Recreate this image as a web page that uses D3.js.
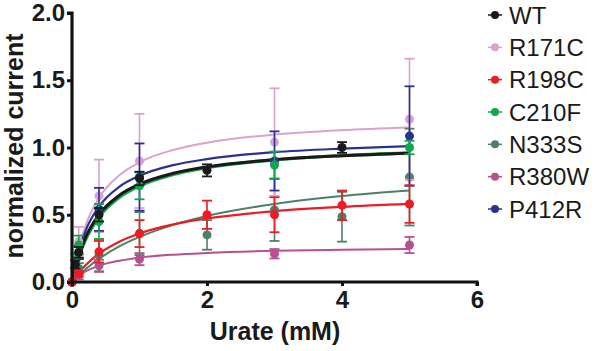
<!DOCTYPE html>
<html>
<head>
<meta charset="utf-8">
<script src="https://cdn.jsdelivr.net/npm/d3@7"></script>
<style>
  html, body { margin: 0; padding: 0; background: #fff; }
  svg { display: block; }
</style>
</head>
<body>
<svg id="chart" width="600" height="351"></svg>
<script>
// ---------------- data ----------------
const seriesNames = ["WT", "R171C", "R198C", "C210F", "N333S", "R380W", "P412R"];
const seriesColors = ["#1a1a1a", "#d9a2cf", "#ec1c24", "#12a64a", "#4f7f64", "#b8508f", "#2b3190"];

const xTicks = [0, 2, 4, 6];
const yTicks = [0, 0.5, 1.0, 1.5, 2.0];

// measured points: urate concentration (mM), mean, error
const concWT    = [0, 0.05, 0.1, 0.4, 1, 2, 4];
const meanWT    = [0, 0.13, 0.22, 0.50, 0.77, 0.83, 1.00];
const errWT     = [0, 0.03, 0.04, 0.05, 0.05, 0.045, 0.04];

const concR171C = [0, 0.1, 0.4, 1, 3, 5];
const meanR171C = [0, 0.30, 0.64, 0.90, 1.04, 1.21];
const errR171C  = [0, 0.11, 0.27, 0.35, 0.40, 0.45];

const concR198C = [0, 0.1, 0.4, 1, 2, 3, 4, 5];
const meanR198C = [0, 0.06, 0.225, 0.36, 0.50, 0.50, 0.57, 0.58];
const errR198C  = [0, 0.02, 0.08, 0.10, 0.105, 0.13, 0.11, 0.14];

const concC210F = [0, 0.05, 0.1, 0.4, 1, 3, 5];
const meanC210F = [0, 0.16, 0.275, 0.45, 0.715, 0.87, 1.00];
const errC210F  = [0, 0.05, 0.07, 0.13, 0.10, 0.10, 0.05];

const concN333S = [0, 0.1, 0.4, 1, 2, 3, 4, 5];
const meanN333S = [0, 0.10, 0.20, 0.36, 0.35, 0.535, 0.485, 0.78];
const errN333S  = [0, 0.04, 0.12, 0.16, 0.11, 0.23, 0.185, 0.36];

const concR380W = [0, 0.1, 0.4, 1, 3, 5];
const meanR380W = [0, 0.05, 0.12, 0.17, 0.21, 0.275];
const errR380W  = [0, 0.03, 0.045, 0.045, 0.035, 0.06];

const concP412R = [0, 0.1, 0.4, 1, 3, 5];
const meanP412R = [0, 0.22, 0.54, 0.78, 0.90, 1.085];
const errP412R  = [0, 0.05, 0.16, 0.25, 0.22, 0.37];

// fitted curves, values at these concentrations
const fitConc  = [0, 0.05, 0.1, 0.2, 0.4, 0.7, 1, 1.5, 2, 3, 4, 5];
const fitWT    = [0, 0.108, 0.196, 0.330, 0.501, 0.644, 0.727, 0.808, 0.856, 0.910, 0.939, 0.958];
const fitR171C = [0, 0.140, 0.251, 0.418, 0.625, 0.793, 0.890, 0.982, 1.036, 1.096, 1.129, 1.149];
const fitR198C = [0, 0.036, 0.069, 0.125, 0.211, 0.300, 0.361, 0.428, 0.472, 0.527, 0.559, 0.581];
const fitC210F = [0, 0.101, 0.184, 0.313, 0.483, 0.628, 0.714, 0.799, 0.850, 0.908, 0.940, 0.960];
const fitN333S = [0, 0.026, 0.050, 0.095, 0.172, 0.264, 0.335, 0.425, 0.491, 0.580, 0.639, 0.680];
const fitR380W = [0, 0.025, 0.045, 0.078, 0.121, 0.158, 0.181, 0.203, 0.216, 0.232, 0.240, 0.246];
const fitP412R = [0, 0.128, 0.229, 0.379, 0.561, 0.708, 0.790, 0.869, 0.914, 0.965, 0.992, 1.010];

const xTitle = "Urate (mM)";
const yTitle = "normalized current";

// ---------------- assemble ----------------
const table = {
  WT:    {conc: concWT,    mean: meanWT,    err: errWT,    fit: fitWT},
  R171C: {conc: concR171C, mean: meanR171C, err: errR171C, fit: fitR171C},
  R198C: {conc: concR198C, mean: meanR198C, err: errR198C, fit: fitR198C},
  C210F: {conc: concC210F, mean: meanC210F, err: errC210F, fit: fitC210F},
  N333S: {conc: concN333S, mean: meanN333S, err: errN333S, fit: fitN333S},
  R380W: {conc: concR380W, mean: meanR380W, err: errR380W, fit: fitR380W},
  P412R: {conc: concP412R, mean: meanP412R, err: errP412R, fit: fitP412R}
};
const colorOf = d3.scaleOrdinal().domain(seriesNames).range(seriesColors);

// ---------------- layout ----------------
const FONT = "'Liberation Sans', Arial, Helvetica, sans-serif";
const svg = d3.select("#chart");
const x = d3.scaleLinear().domain([0, 6]).range([72, 477]);
const y = d3.scaleLinear().domain([0, 2]).range([282, 13]);

const plot = svg.append("g");

// draw order (back to front)
const drawOrder = ["N333S", "R380W", "R171C", "P412R", "C210F", "WT", "R198C"];
const lineWidth = {WT: 3, C210F: 3.2, R171C: 2, R198C: 2.2, N333S: 2, R380W: 2, P412R: 2.2};

const line = d3.line()
  .x(d => x(d[0])).y(d => y(d[1]))
  .curve(d3.curveMonotoneX);

// curves
drawOrder.forEach(name => {
  const s = table[name];
  const pts = fitConc.map((c, i) => [c, s.fit[i]]);
  plot.append("path")
    .attr("d", line(pts))
    .attr("fill", "none")
    .attr("stroke", colorOf(name))
    .attr("stroke-width", lineWidth[name]);
});

// error bars + points
drawOrder.forEach(name => {
  const s = table[name];
  const col = colorOf(name);
  const g = plot.append("g");
  const pts = s.conc.map((c, i) => ({c, m: s.mean[i], e: s.err[i]}));
  const eb = g.selectAll(".eb").data(pts.filter(p => p.e > 0)).enter().append("g");
  eb.append("line")
    .attr("x1", p => x(p.c)).attr("x2", p => x(p.c))
    .attr("y1", p => y(p.m - p.e)).attr("y2", p => y(p.m + p.e))
    .attr("stroke", col).attr("stroke-width", 1.6);
  [1, -1].forEach(sg => {
    eb.append("line")
      .attr("x1", p => x(p.c) - 5).attr("x2", p => x(p.c) + 5)
      .attr("y1", p => y(p.m + sg * p.e)).attr("y2", p => y(p.m + sg * p.e))
      .attr("stroke", col).attr("stroke-width", 1.8);
  });
  g.selectAll("circle").data(pts).enter().append("circle")
    .attr("cx", p => x(p.c)).attr("cy", p => y(p.m))
    .attr("r", 4.5).attr("fill", col);
});

// axes
const yAxis = d3.axisLeft(y).tickValues(yTicks).tickFormat(d3.format(".1f")).tickSize(5).tickPadding(2);
const xAxis = d3.axisBottom(x).tickValues(xTicks).tickFormat(d3.format("d")).tickSize(4).tickPadding(2);

const gy = svg.append("g").attr("transform", "translate(72,0)").call(yAxis);
const gx = svg.append("g").attr("transform", "translate(0,282)").call(xAxis);
[gx, gy].forEach(g => {
  g.select(".domain").attr("stroke", "#111").attr("stroke-width", 3.2);
  g.selectAll(".tick line").attr("stroke", "#111").attr("stroke-width", 3);
  g.selectAll("text").attr("font-family", FONT).attr("font-weight", "bold")
    .attr("font-size", 24).attr("fill", "#1a1a1a");
});
gy.select(".domain").attr("d", "M-5,13H0V282");
gx.select(".domain").attr("d", "M72,0H477V4");
gx.selectAll(".tick text").attr("dy", "0.85em");

// axis titles
svg.append("text")
  .attr("x", 275).attr("y", 340)
  .attr("text-anchor", "middle")
  .attr("font-family", FONT).attr("font-weight", "bold").attr("font-size", 25)
  .attr("fill", "#1a1a1a")
  .text(xTitle);

svg.append("text")
  .attr("transform", "translate(23,146) rotate(-90)")
  .attr("text-anchor", "middle")
  .attr("font-family", FONT).attr("font-weight", "bold").attr("font-size", 25)
  .attr("fill", "#1a1a1a")
  .text(yTitle);

// legend
const legendY = d3.scalePoint().domain(seriesNames).range([15, 209]);
const leg = svg.append("g");
seriesNames.forEach(name => {
  const ly = legendY(name);
  const col = colorOf(name);
  leg.append("line").attr("x1", 488).attr("x2", 502).attr("y1", ly).attr("y2", ly)
    .attr("stroke", col).attr("stroke-width", 1.5);
  leg.append("circle").attr("cx", 495).attr("cy", ly).attr("r", 4).attr("fill", col);
  leg.append("text")
    .attr("x", 509).attr("y", ly).attr("dy", "0.36em")
    .attr("font-family", FONT).attr("font-size", 24).attr("fill", "#1a1a1a")
    .text(name);
});
</script>
</body>
</html>
